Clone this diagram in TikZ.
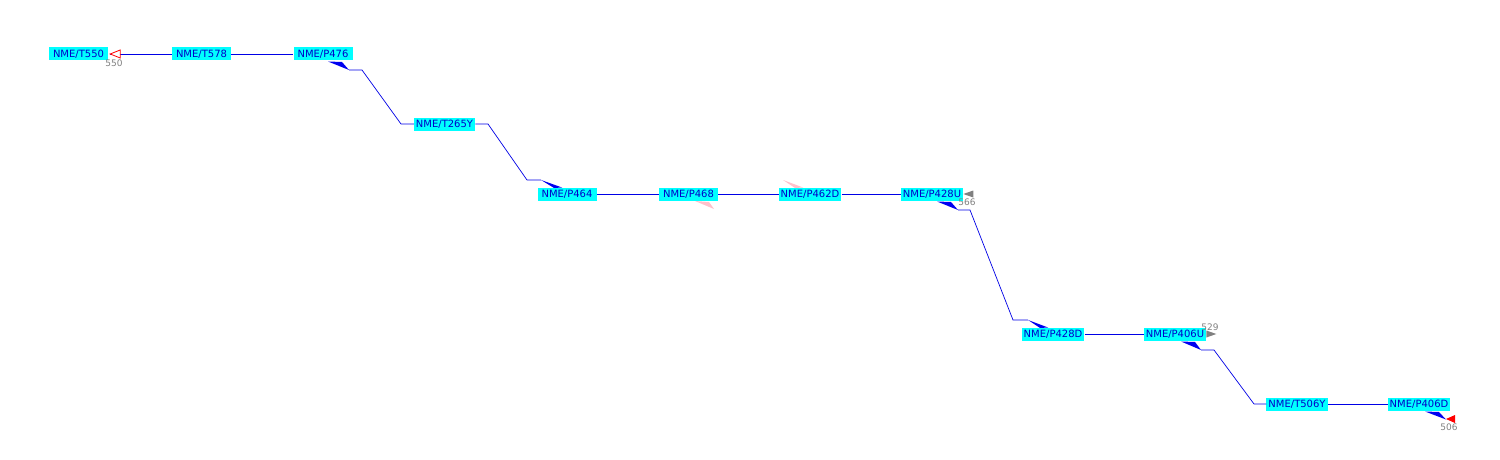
\documentclass[tikz,border=0pt]{standalone}
\usepackage{fontspec}
\setmainfont{DejaVu Sans}
\definecolor{boxcyan}{RGB}{0,255,255}
\definecolor{txtblue}{RGB}{0,0,200}
\definecolor{lnblue}{RGB}{0,0,230}
\definecolor{wdgblue}{RGB}{0,0,240}
\definecolor{wdgpink}{RGB}{255,192,203}
\definecolor{lblgray}{RGB}{128,128,128}
\definecolor{mkred}{RGB}{255,0,0}
\begin{document}
\begin{tikzpicture}[x=1pt,y=-1pt,
  stn/.style={fill=boxcyan, text=txtblue, font=\fontsize{10}{11}\selectfont,
    inner xsep=2pt, inner ysep=0pt, minimum width=59pt, minimum height=13pt},
  link/.style={draw=lnblue, line width=0.7pt},
  wedgeb/.style={fill=wdgblue},
  wedgep/.style={fill=wdgpink},
  lbl/.style={text=lblgray, font=\fontsize{9}{10}\selectfont, inner sep=0pt}]
\useasboundingbox[fill=white] (0,0) rectangle (1500,460);

% stations
\node[stn] (t550)  at (78.5,54)  {NME/T550};
\node[stn] (t578)  at (201.5,54) {NME/T578};
\node[stn] (p476)  at (323,54)   {NME/P476};
\node[stn] (t265y) at (444.5,124) {NME/T265Y};
\node[stn] (p464)  at (567,194)  {NME/P464};
\node[stn] (p468)  at (688.5,194) {NME/P468};
\node[stn] (p462d) at (810,194)  {NME/P462D};
\node[stn] (p428u) at (932,194)  {NME/P428U};
\node[stn] (p428d) at (1053,334) {NME/P428D};
\node[stn] (p406u) at (1175,334) {NME/P406U};
\node[stn] (t506y) at (1297,404) {NME/T506Y};
\node[stn] (p406d) at (1419,404) {NME/P406D};

% straight links
\draw[link] (t578.west) -- ([xshift=2pt]t550.east);
\draw[link] (t578.east) -- (p476.west);
\draw[link] (p464.east) -- (p468.west);
\draw[link] (p468.east) -- (p462d.west);
\draw[link] (p462d.east) -- (p428u.west);
\draw[link] (p428d.east) -- (p406u.west);
\draw[link] (t506y.east) -- (p406d.west);

% end markers and labels
\draw[mkred, fill=white, line width=0.8pt] ([xshift=2pt]t550.east) -- ++(10,-4) -- ++(0,8) -- cycle;
\node[lbl] (l550) at (114,63) {550};
\fill[lblgray] (p428u.east) -- ++(10,-3.5) -- ++(0,7) -- cycle;
\node[lbl] (l566) at (967,202) {566};
\fill[lblgray] (p406u.east) ++(0,-3.5) -- ++(0,7) -- ++(10,-3.5) -- cycle;
\node[lbl] (l529) at (1210,327) {529};
\fill[mkred] (1446,419) -- (1455,415) -- (1455,423) -- cycle;
\node[lbl] (l506) at (1449,427) {506};

% stepped links with wedges
\fill[wedgeb] (328,61.5) -- (342,62) -- (349,70) -- cycle;
\draw[link] (349,70) -- (362,70) -- (401,124) -- (t265y.west);

\draw[link] (t265y.east) -- (488,124) -- (527,180) -- (541,180);
\fill[wedgeb] (541,180) -- (562,187.5) -- (554,188) -- cycle;

\fill[wedgep] (695,201) -- (709,202) -- (714,209) -- cycle;
\fill[wedgep] (783,180) -- (803,187.5) -- (795,188) -- cycle;

\fill[wedgeb] (937,201.5) -- (951,202) -- (958,210) -- cycle;
\draw[link] (958,210) -- (970,210) -- (1013,320) -- (1028,320);
\fill[wedgeb] (1028,320) -- (1048,327.5) -- (1040,328) -- cycle;

\fill[wedgeb] (1181,341.5) -- (1195,342) -- (1201,350) -- cycle;
\draw[link] (1201,350) -- (1214,350) -- (1254,404) -- (t506y.west);

\fill[wedgeb] (1425,411.5) -- (1439,412) -- (1446,419.5) -- cycle;
\end{tikzpicture}
\end{document}
